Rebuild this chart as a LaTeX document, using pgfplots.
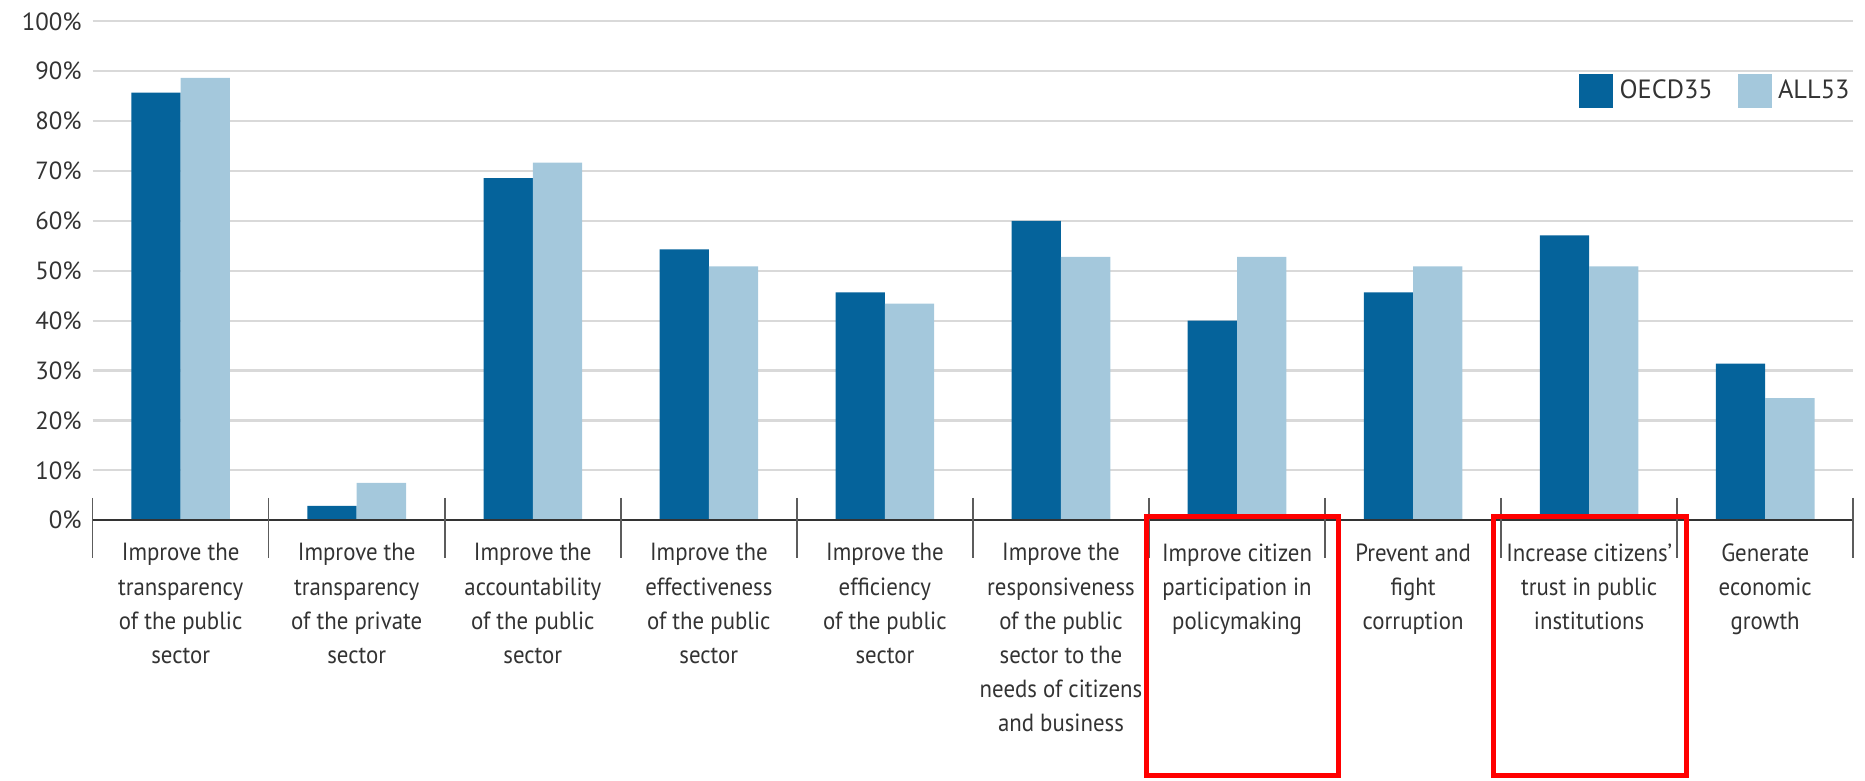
\documentclass[border=0pt]{standalone}
\usepackage{fontspec}
\setmainfont{PT Sans}
\newfontfamily\narrow{PT Sans}[FakeStretch=0.92]
\usepackage{pgfplots}
\pgfplotsset{compat=1.18}
\definecolor{oecd}{HTML}{05639B}
\definecolor{allc}{HTML}{A4C8DC}
\definecolor{txt}{HTML}{333333}
\definecolor{gridc}{HTML}{D9D9D9}

\begin{document}
\begin{tikzpicture}
\begin{axis}[
  width=567.2pt, height=160.7pt, scale only axis,
  xmin=-0.5, xmax=9.5, ymin=0, ymax=100,
  axis line style={draw=none},
  clip=false,
  ybar, bar width=0.28,
  ymajorgrids, major grid style={gridc, line width=0.7pt},
  major tick length=0,
  ytick={0,10,...,100},
  yticklabel={\pgfmathprintnumber{\tick}\%},
  /pgf/number format/assume math mode=true,
  y tick label style={font=\fontsize{8}{9}\selectfont, text=txt},
  xtick={0,...,9},
  xticklabels={
    {Improve the\\transparency\\of the public\\sector},
    {Improve the\\transparency\\of the private\\sector},
    {Improve the\\accountability\\of the public\\sector},
    {Improve the\\effectiveness\\of the public\\sector},
    {Improve the\\efficiency\\of the public\\sector},
    {Improve the\\responsiveness\\of the public\\sector to the\\needs of citizens\\and business},
    {Improve citizen\\participation in\\policymaking},
    {Prevent and\\fight\\corruption},
    {Increase citizens’\\trust in public\\institutions},
    {Generate\\economic\\growth}},
  x tick label style={font=\narrow\fontsize{8}{11}\selectfont, text=txt, align=center, anchor=north, yshift=-4pt},
  legend style={draw=none, fill=none, at={(axis cs:9.5,86)}, anchor=east, xshift=4pt,
    legend columns=2, font=\fontsize{8.5}{10}\selectfont, text=txt,
    /tikz/every even column/.append style={column sep=6pt}},
]
\addplot[fill=oecd, draw=none, bar shift=-0.14,
  legend image code/.code={\fill[oecd] (0pt,-5.5pt) rectangle (11pt,5.5pt);}]
  coordinates {(0,85.7) (1,2.9) (2,68.6) (3,54.3) (4,45.7) (5,60.0) (6,40.0) (7,45.7) (8,57.1) (9,31.4)};
\addplot[fill=allc, draw=none, bar shift=0.14,
  legend image code/.code={\fill[allc] (0pt,-5.5pt) rectangle (11pt,5.5pt);}]
  coordinates {(0,88.7) (1,7.5) (2,71.7) (3,50.9) (4,43.4) (5,52.8) (6,52.8) (7,50.9) (8,50.9) (9,24.5)};
\legend{OECD35, ALL53}
\draw[txt, line width=0.6pt] (axis cs:-0.5,0) -- (axis cs:9.5,0);
\pgfplotsinvokeforeach{-0.5,0.5,...,9.5}{
  \draw[txt!80, line width=0.5pt] (axis cs:#1,4.5) -- (axis cs:#1,-7.6);
}
\draw[red, line width=1.6pt] (axis cs:5.485,0.7) rectangle (axis cs:6.578,-51.2);
\draw[red, line width=1.6pt] (axis cs:7.456,0.7) rectangle (axis cs:8.555,-51.2);
\end{axis}
\path (-29.85pt,-83.7pt) rectangle (570.3pt,167.6pt);
\end{tikzpicture}
\end{document}
